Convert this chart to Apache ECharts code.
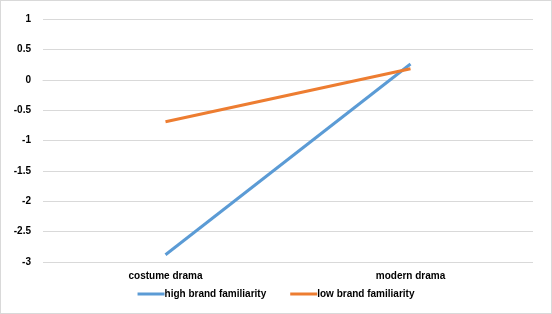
<!DOCTYPE html>
<html>
<head>
<meta charset="utf-8">
<script src="https://cdn.jsdelivr.net/npm/echarts@6/dist/echarts.min.js"></script>
<style>
  html, body { margin: 0; padding: 0; background: #fff; }
  #chart { width: 550px; height: 312px; border: 1px solid #d9d9d9; }
</style>
</head>
<body>
<div id="chart"></div>
<script>
var categories = ['costume drama', 'modern drama'];
var highFamiliarity = [-2.88, 0.26];
var lowFamiliarity = [-0.69, 0.18];

var myChart = echarts.init(document.getElementById('chart'));

var labelFont = { fontFamily: 'Liberation Sans, Arial, sans-serif', fontWeight: 'bold', fontSize: 10, color: '#000' };

var option = {
  animation: false,
  grid: { left: 42, right: 18, top: 18, bottom: 51 },
  legend: {
    bottom: 9,
    left: 'center',
    itemGap: 24,
    itemWidth: 27,
    itemHeight: 3,
    icon: 'rect',
    textStyle: Object.assign({ padding: [0, 0, 0, -5] }, labelFont),
    data: ['high brand familiarity', 'low brand familiarity']
  },
  xAxis: {
    type: 'category',
    data: categories,
    axisLine: { lineStyle: { color: '#d9d9d9', width: 1 } },
    axisTick: { show: false },
    axisLabel: Object.assign({ margin: 9 }, labelFont)
  },
  yAxis: {
    type: 'value',
    min: -3,
    max: 1,
    interval: 0.5,
    axisLine: { show: false },
    axisTick: { show: false },
    splitLine: { lineStyle: { color: '#d9d9d9', width: 1 } },
    axisLabel: Object.assign({ margin: 12 }, labelFont)
  },
  series: [
    {
      name: 'high brand familiarity',
      type: 'line',
      data: highFamiliarity,
      symbol: 'none',
      color: '#5b9bd5',
      lineStyle: { width: 3 }
    },
    {
      name: 'low brand familiarity',
      type: 'line',
      data: lowFamiliarity,
      symbol: 'none',
      color: '#ed7d31',
      lineStyle: { width: 3 }
    }
  ]
};

myChart.setOption(option);
</script>
</body>
</html>
